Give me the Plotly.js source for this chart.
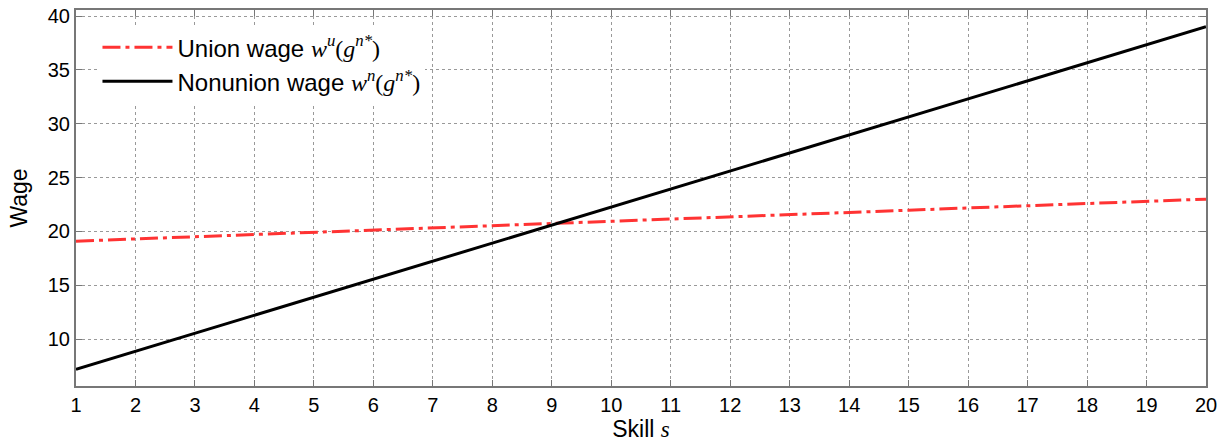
<!DOCTYPE html>
<html>
<head>
<meta charset="utf-8">
<script src="https://cdn.plot.ly/plotly-3.0.1.min.js"></script>
<style>html,body{margin:0;padding:0;background:#fff;}#chart{width:1231px;height:448px;}</style>
</head>
<body>
<div id="chart"></div>
<script>
const skill = [1,2,3,4,5,6,7,8,9,10,11,12,13,14,15,16,17,18,19,20];
const unionWage = [19.1,19.3,19.5,19.72,19.92,20.13,20.33,20.54,20.74,20.95,21.15,21.36,21.56,21.77,21.97,22.18,22.38,22.59,22.79,23.0];
const nonunionWage = [7.2,8.87,10.55,12.22,13.9,15.57,17.24,18.92,20.59,22.27,23.94,25.61,27.29,28.96,30.64,32.31,33.98,35.66,37.33,39.0];
const xTicks = [1,2,3,4,5,6,7,8,9,10,11,12,13,14,15,16,17,18,19,20];
const yTicks = [10,15,20,25,30,35,40];

const M = "font-family:'Liberation Serif','DejaVu Serif',serif;font-style:italic";
const P = "font-family:'Liberation Serif','DejaVu Serif',serif";
const unionName = "Union wage <span style=\"" + M + "\">w<sup>u</sup></span><span style=\"" + P + "\">(</span><span style=\"" + M + "\">g<sup>n*</sup></span><span style=\"" + P + "\">)</span>";
const nonunionName = "Nonunion wage <span style=\"" + M + "\">w<sup>n</sup></span><span style=\"" + P + "\">(</span><span style=\"" + M + "\">g<sup>n*</sup></span><span style=\"" + P + "\">)</span>";

const traces = [
  {x: skill, y: unionWage, type: 'scatter', mode: 'lines', name: unionName,
   line: {color: '#ff3333', width: 3, dash: '18px,5px,4px,5px'}},
  {x: skill, y: nonunionWage, type: 'scatter', mode: 'lines', name: nonunionName,
   line: {color: '#000000', width: 3}}
];

const axisCommon = {
  showline: true, mirror: 'allticks', linecolor: '#777', linewidth: 2,
  ticks: 'inside', ticklen: 6, tickcolor: '#777', tickwidth: 1,
  showgrid: true, gridcolor: '#999', griddash: '3px,3px', gridwidth: 1,
  zeroline: false,
  tickfont: {family: "'Liberation Sans', Arial, sans-serif", size: 20, color: '#000'}
};

const layout = {
  width: 1231, height: 448,
  margin: {l: 76, r: 25, t: 10, b: 62},
  paper_bgcolor: '#fff', plot_bgcolor: '#fff',
  showlegend: true,
  legend: {x: 0.019, y: 0.96, xanchor: 'left', yanchor: 'top',
           bgcolor: '#ffffff', borderwidth: 0, itemwidth: 70, tracegroupgap: 0,
           font: {family: "'Liberation Sans', Arial, sans-serif", size: 24, color: '#000'}},
  xaxis: Object.assign({}, axisCommon, {
    range: [1, 20], tickvals: xTicks, ticktext: xTicks.map(String),
    title: {text: "Skill <span style=\"" + M + "\">s</span>", standoff: 6,
            font: {family: "'Liberation Sans', Arial, sans-serif", size: 23, color: '#000'}}
  }),
  yaxis: Object.assign({}, axisCommon, {
    range: [5.65, 40.56], tickvals: yTicks, ticktext: yTicks.map(String),
    title: {text: 'Wage', standoff: 14,
            font: {family: "'Liberation Sans', Arial, sans-serif", size: 23, color: '#000'}}
  })
};

Plotly.newPlot('chart', traces, layout, {displayModeBar: false, staticPlot: true});
</script>
</body>
</html>
